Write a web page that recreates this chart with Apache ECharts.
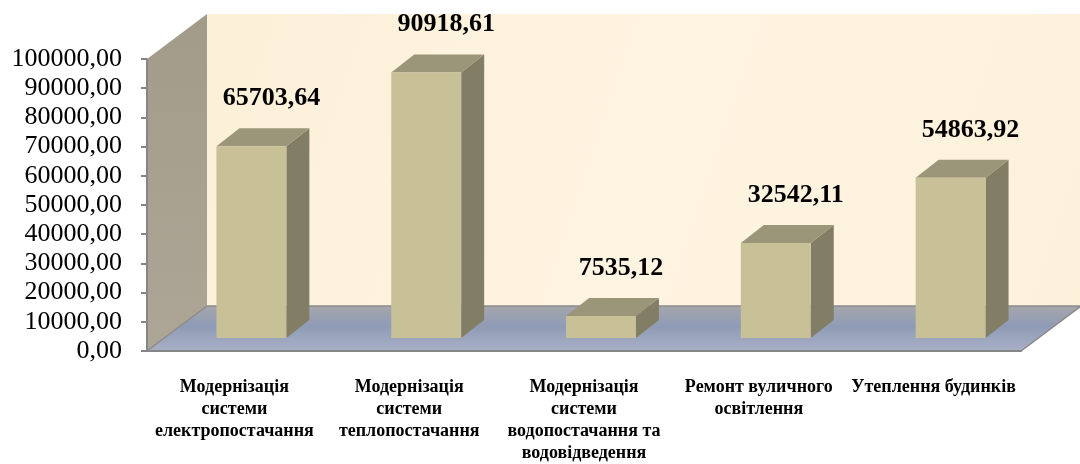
<!DOCTYPE html>
<html lang="uk">
<head>
    <meta charset="UTF-8">
    <title>Видатки за напрямами</title>
    <style>
        html, body {margin: 0; padding: 0; background: #fff;}
        #chart-box {width: 1080px; height: 464px;}
    </style>
</head>
<body>
<div id="chart-box"></div>
<script src="https://cdn.jsdelivr.net/npm/echarts@6/dist/echarts.min.js"></script>
<script type="text/javascript">
    // дані діаграми
    var categories = [
        'Модернізація\nсистеми\nелектропостачання',
        'Модернізація\nсистеми\nтеплопостачання',
        'Модернізація\nсистеми\nводопостачання та\nводовідведення',
        'Ремонт вуличного\nосвітлення',
        'Утеплення будинків'
    ];
    var values = [65703.64, 90918.61, 7535.12, 32542.11, 54863.92];
    var yTicks = [0, 10000, 20000, 30000, 40000, 50000, 60000, 70000, 80000, 90000, 100000];

    var serif = '"Liberation Serif", "Times New Roman", serif';

    // зсув "глибини" стін та стовпчиків
    var wallDx = 60, wallDy = -45;
    var frontDx = 17, frontDy = -13;
    var barDx = 23, barDy = -18;

    function fmt(v) {
        return v.toFixed(2).replace('.', ',');
    }

    function renderWalls(params, api) {
        var bw = api.size([1, 0])[0];
        var p0 = api.coord([0, yTicks[0]]);
        var pTop = api.coord([0, yTicks[yTicks.length - 1]]);
        var x0 = p0[0] - bw / 2;
        var x1 = x0 + bw * categories.length;
        var y0 = p0[1], yt = pTop[1];
        return {
            type: 'group',
            children: [
                {   // задня стіна
                    type: 'polygon',
                    shape: {points: [[x0 + wallDx, yt + wallDy], [x1 + wallDx, yt + wallDy], [x1 + wallDx, y0 + wallDy], [x0 + wallDx, y0 + wallDy]]},
                    style: {fill: new echarts.graphic.LinearGradient(0, 0, 1, 1, [
                        {offset: 0, color: '#FCF0D8'},
                        {offset: 0.5, color: '#FEF4E1'},
                        {offset: 1, color: '#FDF1DA'}
                    ])}
                },
                {   // ліва стіна
                    type: 'polygon',
                    shape: {points: [[x0, yt], [x0 + wallDx, yt + wallDy], [x0 + wallDx, y0 + wallDy], [x0, y0]]},
                    style: {fill: new echarts.graphic.LinearGradient(0, 0, 0, 1, [
                        {offset: 0, color: '#A39B8A'},
                        {offset: 1, color: '#ADA696'}
                    ])}
                },
                {   // підлога
                    type: 'polygon',
                    shape: {points: [[x0, y0], [x1, y0], [x1 + wallDx, y0 + wallDy], [x0 + wallDx, y0 + wallDy]]},
                    style: {
                        fill: new echarts.graphic.LinearGradient(0, 0, 0, 1, [
                            {offset: 0, color: '#A6A7AB'},
                            {offset: 0.45, color: '#8F9BB6'},
                            {offset: 1, color: '#A9B1C6'}
                        ]),
                        stroke: '#8C8C8C',
                        lineWidth: 1.5
                    }
                }
            ]
        };
    }

    function renderBar(params, api) {
        var bw = api.size([1, 0])[0];
        var v = api.value(1);
        var base = api.coord([api.value(0), 0]);
        var top = api.coord([api.value(0), v]);
        var hw = bw * 0.2;
        var L = base[0] + frontDx - hw, R = base[0] + frontDx + hw;
        var yb = base[1] + frontDy, yt = top[1] + frontDy;
        return {
            type: 'group',
            children: [
                {
                    type: 'polygon',
                    shape: {points: [[R, yt], [R + barDx, yt + barDy], [R + barDx, yb + barDy], [R, yb]]},
                    style: {fill: '#827E65'}
                },
                {
                    type: 'polygon',
                    shape: {points: [[L, yt], [L + barDx, yt + barDy], [R + barDx, yt + barDy], [R, yt]]},
                    style: {fill: '#9B9679'}
                },
                {
                    type: 'rect',
                    shape: {x: L, y: yt, width: R - L, height: yb - yt},
                    style: {fill: '#C8C097'}
                },
                {
                    type: 'text',
                    style: {
                        text: fmt(v),
                        x: base[0] + frontDx + 20,
                        y: yt + barDy - 30,
                        align: 'center',
                        verticalAlign: 'middle',
                        font: 'bold 26px ' + serif,
                        fill: '#000'
                    }
                }
            ]
        };
    }

    var myChart = echarts.init(document.getElementById('chart-box'));

    var barData = [];
    for (var i = 0; i < values.length; i++) {
        barData.push([i, values[i]]);
    }

    myChart.setOption({
        animation: false,
        grid: {left: 147, right: 59, top: 59, bottom: 107},
        xAxis: {
            type: 'category',
            data: categories,
            z: 10,
            axisLine: {lineStyle: {color: '#868686', width: 2}},
            axisTick: {length: 6, lineStyle: {color: '#868686', width: 2}},
            axisLabel: {
                interval: 0,
                margin: 25,
                color: '#000',
                fontFamily: serif,
                fontWeight: 'bold',
                fontSize: 18,
                lineHeight: 22,
                align: 'center'
            }
        },
        yAxis: {
            type: 'value',
            min: yTicks[0],
            max: yTicks[yTicks.length - 1],
            interval: yTicks[1] - yTicks[0],
            z: 10,
            axisLine: {show: true, lineStyle: {color: '#868686', width: 2}},
            axisTick: {show: true, length: 6, lineStyle: {color: '#868686', width: 2}},
            splitLine: {show: false},
            axisLabel: {
                margin: 25,
                color: '#000',
                fontFamily: serif,
                fontSize: 26,
                formatter: function (v) { return fmt(v); }
            }
        },
        series: [
            {
                type: 'custom',
                z: 1,
                silent: true,
                renderItem: renderWalls,
                encode: {x: 0, y: 1},
                data: [[0, 0]]
            },
            {
                type: 'custom',
                z: 2,
                renderItem: renderBar,
                encode: {x: 0, y: 1},
                data: barData
            }
        ]
    });
</script>
</body>
</html>
